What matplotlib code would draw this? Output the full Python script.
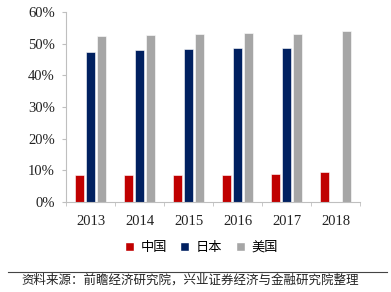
import matplotlib.pyplot as plt
import numpy as np
from matplotlib.patches import Patch

years = ["2013", "2014", "2015", "2016", "2017", "2018"]
china = [8.6, 8.6, 8.5, 8.6, 8.9, 9.5]
japan = [47.4, 47.9, 48.3, 48.5, 48.7, None]
usa = [52.4, 52.6, 53.2, 53.3, 53.2, 53.9]
series_names = ["中国", "日本", "美国"]
colors = ["#C00000", "#002060", "#A6A6A6"]

cjk = ["Noto Sans CJK SC", "DejaVu Sans"]
serif = ["Liberation Serif", "DejaVu Serif"]

fig = plt.figure(figsize=(3.91, 2.92), dpi=100)
ax = fig.add_axes([0.169, 0.308, 0.752, 0.651])

x = np.arange(len(years))
w = 0.17
off = 0.225
for i, (vals, c) in enumerate(zip([china, japan, usa], colors)):
    xs = [xi + (i - 1) * off for xi, v in zip(x, vals) if v is not None]
    vs = [v for v in vals if v is not None]
    ax.bar(xs, vs, width=w, color=c, edgecolor="white", linewidth=0.4)

ax.set_xlim(-0.5, len(years) - 0.5)
ax.set_ylim(0, 60)
ax.set_yticks(range(0, 61, 10))
ax.set_yticklabels([f"{v}%" for v in range(0, 61, 10)], fontfamily=serif, fontsize=10.5, color="#222222")
ax.set_xticks(x)
ax.set_xticklabels(years, fontfamily=serif, fontsize=10.5, color="#222222")
ax.set_xticks(np.arange(-0.5, len(years)), minor=True)
ax.tick_params(axis="x", which="major", length=0, pad=9)
ax.tick_params(axis="x", which="minor", length=3, color="#BFBFBF", direction="out")
ax.tick_params(axis="y", length=3, color="#BFBFBF", pad=5)

for s in ["top", "right"]:
    ax.spines[s].set_visible(False)
ax.spines["left"].set_color("#BFBFBF")
ax.spines["bottom"].set_color("#BFBFBF")

handles = [Patch(facecolor=c, edgecolor="white") for c in colors]
fig.legend(handles, series_names, loc="center", bbox_to_anchor=(0.515, 0.153), ncol=3,
           frameon=False, handlelength=0.7, handleheight=0.7, handletextpad=0.5,
           columnspacing=1.0, prop={"family": cjk, "size": 9.5})

fig.add_artist(plt.Line2D([0.02, 0.99], [0.07, 0.07], color="#444444", linewidth=0.8))
fig.text(0.055, 0.04, "资料来源：前瞻经济研究院，兴业证券经济与金融研究院整理", fontfamily=cjk,
         fontsize=9, va="center", ha="left", color="#222222")

fig.savefig("out.png", dpi=100)
